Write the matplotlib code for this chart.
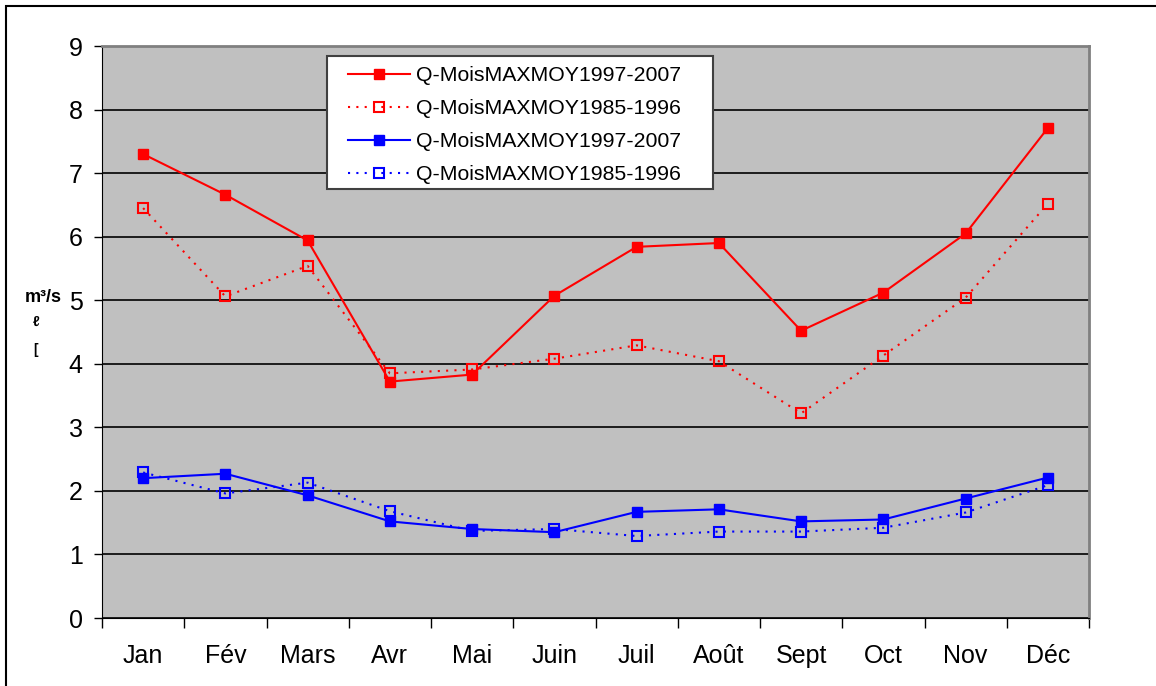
import matplotlib.pyplot as plt
from matplotlib.patches import Rectangle

plt.rcParams["font.family"] = ["Liberation Sans", "DejaVu Sans"]

# Month labels and monthly max-mean discharge values (m3/s)
months = ["Jan", "Fév", "Mars", "Avr", "Mai", "Juin", "Juil", "Août", "Sept", "Oct", "Nov", "Déc"]
red_9707 = [7.30, 6.66, 5.94, 3.72, 3.83, 5.07, 5.84, 5.90, 4.52, 5.12, 6.05, 7.71]
red_8596 = [6.45, 5.06, 5.54, 3.85, 3.91, 4.08, 4.29, 4.04, 3.22, 4.13, 5.04, 6.52]
blue_9707 = [2.20, 2.27, 1.93, 1.52, 1.40, 1.35, 1.67, 1.71, 1.52, 1.55, 1.88, 2.21]
blue_8596 = [2.29, 1.96, 2.13, 1.68, 1.37, 1.40, 1.29, 1.36, 1.36, 1.42, 1.66, 2.09]
label_9707 = "Q-MoisMAXMOY1997-2007"
label_8596 = "Q-MoisMAXMOY1985-1996"

W, H = 1156, 686
fig = plt.figure(figsize=(W / 100, H / 100), dpi=100)
ax = fig.add_axes([102 / W, 1 - 618 / H, (1089 - 102) / W, (618 - 46) / H])
ax.set_facecolor("#c0c0c0")

# outer frame of the chart
fig.patches.append(Rectangle((6 / W, -0.1), 1.2, 1 - 6 / H + 0.1, transform=fig.transFigure,
                             fill=False, edgecolor="black", linewidth=1.5))

x = list(range(len(months)))
ax.plot(x, red_9707, color="#ff0000", lw=1.5, marker="s", ms=7, label=label_9707, zorder=3)
ax.plot(x, red_8596, color="#ff0000", lw=1.5, ls=(0, (1, 3)), marker="s", ms=7,
        mfc="none", mew=1.5, label=label_8596, zorder=3)
ax.plot(x, blue_9707, color="#0000ff", lw=1.5, marker="s", ms=7, label=label_9707, zorder=3)
ax.plot(x, blue_8596, color="#0000ff", lw=1.5, ls=(0, (1, 3)), marker="s", ms=7,
        mfc="none", mew=1.5, label=label_8596, zorder=3)

ax.set_xlim(-0.5, len(months) - 0.5)
ax.set_ylim(0, 9)
ax.set_yticks(range(10))
ax.grid(axis="y", color="black", lw=1.2)
ax.set_axisbelow(True)

ax.set_xticks([i - 0.5 for i in range(len(months) + 1)])
ax.set_xticklabels([])
ax.set_xticks(x, minor=True)
ax.set_xticklabels(months, minor=True, fontsize=18)
ax.tick_params(axis="x", which="major", direction="out", length=7, width=1, color="black")
ax.tick_params(axis="x", which="minor", length=0, pad=19)
ax.tick_params(axis="y", direction="out", length=6, width=1, labelsize=18, pad=8)

for side in ["top", "right"]:
    ax.spines[side].set_color("#808080")
    ax.spines[side].set_linewidth(2)
ax.spines["left"].set_color("black")
ax.spines["bottom"].set_color("black")

fig.text(25 / W, 1 - 298 / H, "m³/s", fontsize=13, fontweight="bold", va="center")
fig.text(33 / W, 1 - 322 / H, "ℓ", fontsize=10, fontweight="bold", va="center")
fig.text(33 / W, 1 - 350 / H, "[", fontsize=10, fontweight="bold", va="center")

# legend box drawn separately so the inner padding can match
box = Rectangle((327 / W, 1 - 189 / H), (713 - 327) / W, (189 - 56) / H, transform=fig.transFigure,
                facecolor="white", edgecolor="#404040", linewidth=1.5, zorder=4)
ax.add_artist(box)
box.set_clip_on(False)
leg = ax.legend(loc="upper left", bbox_to_anchor=(348 / W, 1 - 66 / H),
                bbox_transform=fig.transFigure, borderaxespad=0, fontsize=15.3,
                frameon=False, handlelength=2.9, labelspacing=0.66, borderpad=0,
                handletextpad=0.3)
leg.set_zorder(5)

fig.savefig("out.png", dpi=100)
